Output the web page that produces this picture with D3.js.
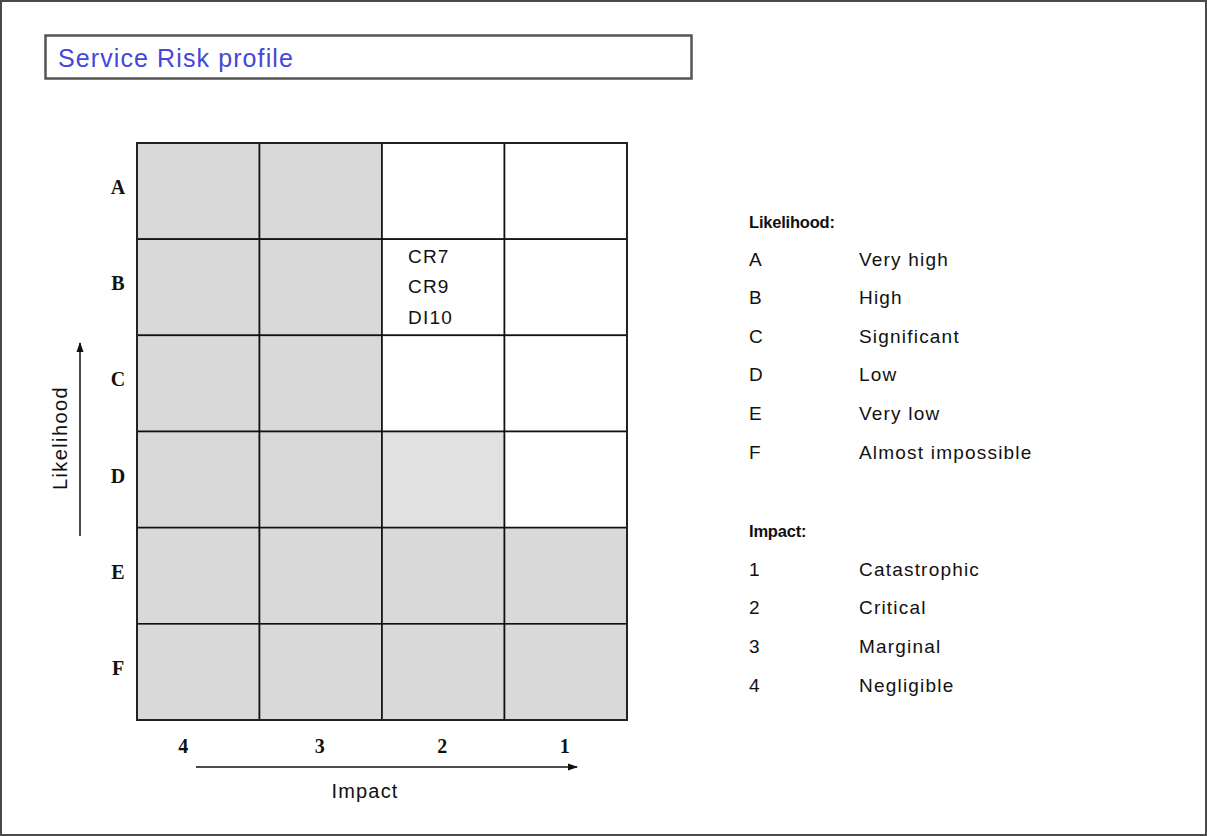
<!DOCTYPE html>
<html>
<head>
<meta charset="utf-8">
<script src="https://cdn.jsdelivr.net/npm/d3@7"></script>
<style>
  html, body { margin: 0; padding: 0; background: #fff; }
  svg { display: block; }
</style>
</head>
<body>
<svg id="chart" width="1207" height="836"></svg>
<script>
// ---- data ----
const title = "Service Risk profile";
const likelihoods = ["A", "B", "C", "D", "E", "F"];
const impacts = ["4", "3", "2", "1"];
// shading level per cell: 2 = grey, 1 = light grey, 0 = white (rows A..F, cols 4..1)
const shading = [
  [2, 2, 0, 0],
  [2, 2, 0, 0],
  [2, 2, 0, 0],
  [2, 2, 1, 0],
  [2, 2, 2, 2],
  [2, 2, 2, 2]
];
const riskLikelihood = "B";
const riskImpact = "2";
const riskIds = ["CR7", "CR9", "DI10"];
const likelihoodLegendTitle = "Likelihood:";
const likelihoodDescriptions = ["Very high", "High", "Significant", "Low", "Very low", "Almost impossible"];
const impactLegendTitle = "Impact:";
const impactLegendKeys = ["1", "2", "3", "4"];
const impactDescriptions = ["Catastrophic", "Critical", "Marginal", "Negligible"];
const xAxisTitle = "Impact";
const yAxisTitle = "Likelihood";

// ---- drawing ----
const svg = d3.select("#chart");
const sans = "Arial, 'Liberation Sans', sans-serif";
const serif = "'Times New Roman', 'Liberation Serif', serif";

// page frame
svg.append("rect").attr("x", 1).attr("y", 1).attr("width", 1205).attr("height", 834)
  .attr("fill", "#fff").attr("stroke", "#4a4a4a").attr("stroke-width", 2);

// title box
svg.append("rect").attr("x", 45.5).attr("y", 35.5).attr("width", 646).attr("height", 43)
  .attr("fill", "#fff").attr("stroke", "#555").attr("stroke-width", 2.5);
svg.append("text").attr("x", 58).attr("y", 66.5)
  .attr("font-family", sans).attr("font-size", 25).attr("letter-spacing", 1.1)
  .attr("fill", "#4545dd").text(title);

const x = d3.scaleBand().domain(impacts).range([137, 627]);
const y = d3.scaleBand().domain(likelihoods).range([143, 720]);
const fillScale = d3.scaleOrdinal().domain([0, 1, 2]).range(["#ffffff", "#e1e1e1", "#d9d9d9"]);

const cells = [];
likelihoods.forEach((l, i) => impacts.forEach((im, j) => cells.push({ l, im, v: shading[i][j] })));

const grid = svg.append("g");
grid.selectAll("rect.cell").data(cells).join("rect").attr("class", "cell")
  .attr("x", d => x(d.im)).attr("y", d => y(d.l))
  .attr("width", x.bandwidth()).attr("height", y.bandwidth())
  .attr("fill", d => fillScale(d.v)).attr("stroke", "#111").attr("stroke-width", 1.6);
grid.append("rect").attr("x", 137).attr("y", 143).attr("width", 490).attr("height", 577)
  .attr("fill", "none").attr("stroke", "#222").attr("stroke-width", 2);

// risk ids in cell
svg.append("g").selectAll("text").data(riskIds).join("text")
  .attr("x", x(riskImpact) + 26)
  .attr("y", (d, i) => y(riskLikelihood) + 17 + i * 30.5)
  .attr("dominant-baseline", "central")
  .attr("font-family", sans).attr("font-size", 19).attr("letter-spacing", 1.2)
  .attr("fill", "#111").text(d => d);

// row labels
svg.append("g").selectAll("text").data(likelihoods).join("text")
  .attr("x", 118).attr("y", d => y(d) + y.bandwidth() / 2 - 4)
  .attr("text-anchor", "middle").attr("dominant-baseline", "central")
  .attr("font-family", serif).attr("font-weight", "bold").attr("font-size", 20)
  .attr("fill", "#111").text(d => d);

// column labels
svg.append("g").selectAll("text").data(impacts).join("text")
  .attr("x", (d, i) => x(d) + x.bandwidth() / 2 + (i === 0 ? -15 : -1))
  .attr("y", 745.5)
  .attr("text-anchor", "middle").attr("dominant-baseline", "central")
  .attr("font-family", serif).attr("font-weight", "bold").attr("font-size", 20)
  .attr("fill", "#111").text(d => d);

// arrows
const defs = svg.append("defs");
defs.append("marker").attr("id", "arr").attr("viewBox", "0 0 10 10")
  .attr("refX", 9).attr("refY", 5).attr("markerWidth", 10).attr("markerHeight", 10)
  .attr("markerUnits", "userSpaceOnUse").attr("orient", "auto")
  .append("path").attr("d", "M0,1.5 L10,5 L0,8.5 Z").attr("fill", "#111");

svg.append("line").attr("x1", 196).attr("y1", 767).attr("x2", 577).attr("y2", 767)
  .attr("stroke", "#111").attr("stroke-width", 1.5).attr("marker-end", "url(#arr)");
svg.append("line").attr("x1", 80).attr("y1", 536).attr("x2", 80).attr("y2", 343)
  .attr("stroke", "#111").attr("stroke-width", 1.5).attr("marker-end", "url(#arr)");

svg.append("text").attr("x", 365).attr("y", 791)
  .attr("text-anchor", "middle").attr("dominant-baseline", "central")
  .attr("font-family", sans).attr("font-size", 20).attr("letter-spacing", 1.2)
  .attr("fill", "#111").text(xAxisTitle);
svg.append("text").attr("transform", "translate(60,438) rotate(-90)")
  .attr("text-anchor", "middle").attr("dominant-baseline", "central")
  .attr("font-family", sans).attr("font-size", 20).attr("letter-spacing", 1.4)
  .attr("fill", "#111").text(yAxisTitle);

// legends
const legendFont = 19, legendSpacing = 1.2;
const legend = svg.append("g");
legend.append("text").attr("x", 749).attr("y", 222).attr("dominant-baseline", "central")
  .attr("font-family", sans).attr("font-weight", "bold").attr("font-size", 16.5)
  .attr("letter-spacing", -0.2).attr("fill", "#111").text(likelihoodLegendTitle);
const ly = d3.scalePoint().domain(likelihoods).range([259, 452]);
const lrows = legend.append("g").selectAll("g").data(likelihoods).join("g");
lrows.append("text").attr("x", 749).attr("y", d => ly(d)).attr("dominant-baseline", "central")
  .attr("font-family", sans).attr("font-size", legendFont).attr("letter-spacing", legendSpacing)
  .attr("fill", "#111").text(d => d);
lrows.append("text").attr("x", 859).attr("y", d => ly(d)).attr("dominant-baseline", "central")
  .attr("font-family", sans).attr("font-size", legendFont).attr("letter-spacing", legendSpacing)
  .attr("fill", "#111").text((d, i) => likelihoodDescriptions[i]);

legend.append("text").attr("x", 749).attr("y", 531).attr("dominant-baseline", "central")
  .attr("font-family", sans).attr("font-weight", "bold").attr("font-size", 16.5)
  .attr("letter-spacing", -0.2).attr("fill", "#111").text(impactLegendTitle);
const iy = d3.scalePoint().domain(impactLegendKeys).range([569, 685]);
const irows = legend.append("g").selectAll("g").data(impactLegendKeys).join("g");
irows.append("text").attr("x", 749).attr("y", d => iy(d)).attr("dominant-baseline", "central")
  .attr("font-family", sans).attr("font-size", legendFont).attr("letter-spacing", legendSpacing)
  .attr("fill", "#111").text(d => d);
irows.append("text").attr("x", 859).attr("y", d => iy(d)).attr("dominant-baseline", "central")
  .attr("font-family", sans).attr("font-size", legendFont).attr("letter-spacing", legendSpacing)
  .attr("fill", "#111").text((d, i) => impactDescriptions[i]);
</script>
</body>
</html>
